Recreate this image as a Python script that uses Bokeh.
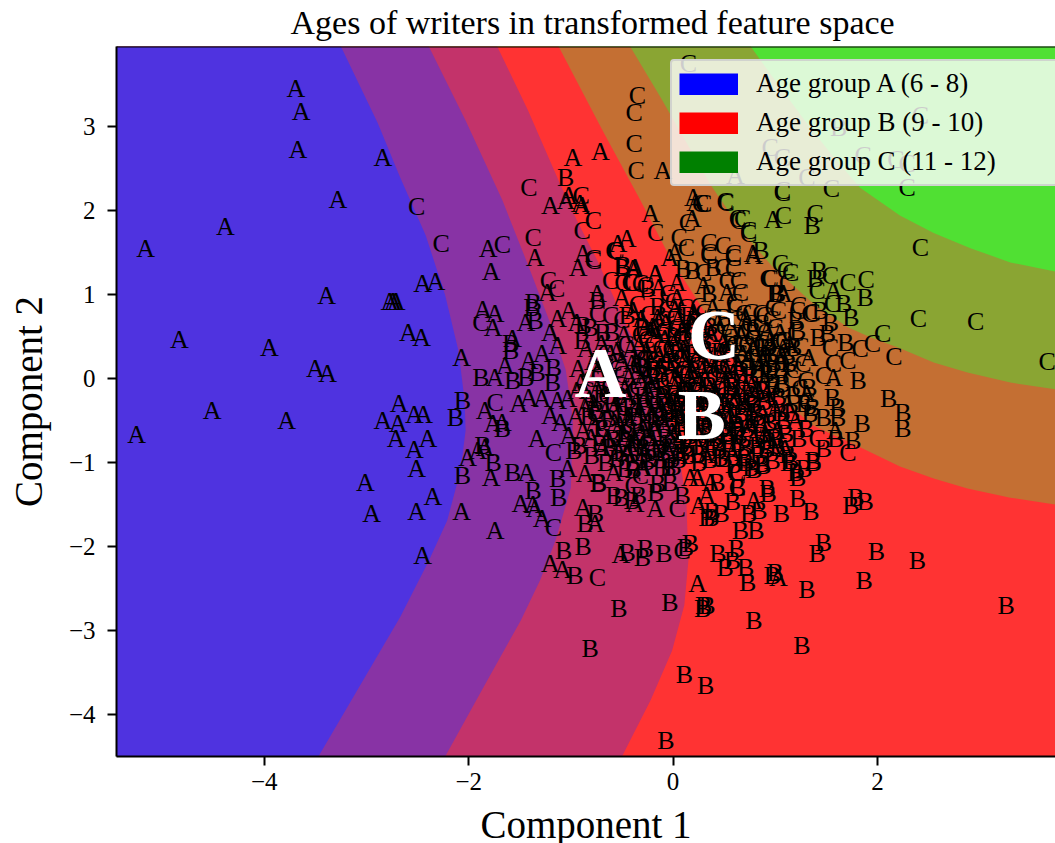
from bokeh.embed import file_html
from bokeh.resources import INLINE
from bokeh.plotting import figure
from bokeh.models import ColumnDataSource, Range1d, FixedTicker, Legend, LegendItem, Span, Label
from bokeh.core.properties import value

TITLE = "Ages of writers in transformed feature space"
XLABEL = "Component 1"
YLABEL = "Component 2"
X_LIMITS = (-5.446, 3.742)
Y_LIMITS = (-4.5, 3.95)
X_TICKS = [-4, -2, 0, 2]
Y_TICKS = [-4, -3, -2, -1, 0, 1, 2, 3]
LEGEND_LABELS = ["Age group A (6 - 8)", "Age group B (9 - 10)", "Age group C (11 - 12)"]
LEGEND_COLORS = ["#0000FF", "#FF0000", "#008000"]
REGION_COLORS = ["#4F33E0", "#8833A5", "#C3336A", "#FF3333", "#C46F33", "#8AA533", "#50E033"]

# Decision-region boundaries
B1_x = [-3.25, -2.89, -2.67, -2.42, -2.23, -2.10, -2.04, -2.03, -2.08, -2.21, -2.39, -2.67, -3.06, -3.47]
B1_y = [3.95, 3.04, 2.39, 1.70, 0.99, 0.33, -0.26, -0.62, -1.10, -1.69, -2.17, -2.84, -3.65, -4.5]
B2_x = [-2.39, -2.03, -1.67, -1.40, -1.20, -1.05, -0.98, -1.00, -1.15, -1.30, -1.49, -1.87, -2.23]
B2_y = [3.95, 3.07, 2.12, 1.29, 0.65, 0.10, -0.50, -1.30, -1.93, -2.40, -2.88, -3.71, -4.5]
B3_x = [-1.72, -1.42, -1.10, -0.94, -0.74, -0.45, -0.27, -0.10, 0.05, 0.13, 0.15, 0.11, -0.01, -0.22, -0.50]
B3_y = [3.95, 3.19, 2.30, 1.88, 1.40, 0.61, 0.21, -0.20, -0.86, -1.45, -2.17, -2.70, -3.24, -3.83, -4.5]
B4_x = [-1.12, -0.69, -0.32, -0.03, 0.32, 0.61, 0.90, 1.37, 1.83, 2.22, 2.55, 2.88, 3.30, 3.74]
B4_y = [3.95, 2.95, 2.12, 1.44, 0.77, 0.25, -0.08, -0.56, -0.82, -1.05, -1.19, -1.31, -1.42, -1.50]
B5_x = [-0.42, -0.12, 0.37, 0.69, 0.98, 1.37, 1.71, 1.93, 2.22, 2.55, 2.88, 3.30, 3.74]
B5_y = [3.95, 3.34, 2.30, 1.73, 1.32, 0.89, 0.61, 0.49, 0.36, 0.19, 0.07, -0.05, -0.13]
B6_x = [0.76, 1.02, 1.30, 1.56, 1.83, 2.22, 2.55, 2.91, 3.30, 3.74]
B6_y = [3.95, 3.51, 3.05, 2.65, 2.27, 1.94, 1.73, 1.55, 1.38, 1.27]

A_points = [
    (-3.69,3.45),(-3.64,3.18),(-3.67,2.73),(-2.84,2.63),(-3.28,2.13),(-4.38,1.81),(-5.16,1.54),(-3.39,0.99),
    (-2.77,0.92),(-2.74,0.92),(-2.71,0.92),(-4.83,0.46),(-3.95,0.37),(-3.50,0.12),(-3.38,0.06),(-4.51,-0.38),
    (-3.78,-0.50),(-5.25,-0.67),(-2.68,-0.30),(-2.84,-0.50),(-2.69,-0.54),(-2.53,-0.43),(-2.44,-0.43),(-2.71,-0.71),
    (-2.40,-0.71),(-2.53,-0.85),(-2.51,-1.07),(-3.01,-1.24),(-2.95,-1.61),(-2.51,-1.58),(-2.35,-1.40),(-2.07,-1.58),
    (-2.45,-2.11),(-2.59,0.55),(-2.46,0.49),(-2.45,1.13),(-2.32,1.15),(-2.07,0.25),(-1.78,1.27),(-1.81,1.54),(-1.86,0.82),
    (-1.74,0.77),(-1.76,0.61),(-1.35,1.44),(-1.23,1.02),(-1.44,0.67),(-1.13,0.71),(-1.02,0.81),(-0.88,1.49),(-0.93,1.32),
    (-1.20,2.06),(-1.05,2.12),(-0.89,2.06),(-0.74,1.01),(-0.45,1.67),(-0.54,1.61),(-0.37,1.32),(-0.22,1.96),(-0.17,1.25),
    (0.19,1.90),(0.04,1.14),(-0.03,1.44),(0.22,2.09),(-1.57,0.48),(-1.20,0.55),(-0.94,0.67),(-0.50,0.96),(-0.22,0.57),
    (-0.98,2.63),(-0.71,2.70),(-0.10,2.48),(0.98,1.89),(0.61,2.41),
    (-1.74,0.01),(-1.64,0.15),(-1.41,0.21),(-1.28,0.30),(-1.13,0.39),(-1.84,-0.38),(-1.76,-0.54),(-1.67,-0.52),(-1.51,-0.30),
    (-1.41,-0.23),(-1.28,-0.24),(-1.13,-0.26),(-1.03,-0.24),(-1.20,-0.44),(-1.10,-0.52),(-1.33,-0.71),(-1.02,-0.68),
    (-2.01,-0.94),(-1.91,-0.86),(-1.84,-0.82),(-1.78,-1.18),(-1.43,-1.12),(-1.03,-1.07),(-0.86,-1.13),(-0.45,-0.89),
    (-0.58,-1.12),(-0.30,-1.06),(-0.94,-0.14),(-0.78,-0.30),(-1.35,-1.55),(-1.28,-1.67),(-0.88,-1.54),(-0.76,-1.73),
    (-1.20,-2.20),(-1.08,-2.28),(-0.51,-2.10),(-0.17,-1.55),(0.25,-1.51),(0.24,-2.44),(1.03,-2.37),(0.79,-1.45),
    (-0.37,-1.49),(0.33,-1.39),(-1.02,2.18),(-0.91,2.08),(0.20,2.15),(0.02,1.50),(0.78,1.49),(0.79,1.46),(1.57,1.05),
    (1.57,0.01),(1.59,-0.62),(1.31,-0.18),(1.33,0.25),(1.08,1.01),(1.07,0.27),
    (-0.39,1.31),(-0.17,1.25),(0.30,1.11),(0.53,1.02),(0.39,0.84),(0.92,0.57),(1.05,0.55),(1.08,0.37),(-0.14,1.08),
    (-0.27,0.60),(-0.39,0.81),(0.04,0.96),(0.98,-0.80),(0.24,-1.18),(-0.29,-1.06),(-0.44,-0.88),(0.17,-1.18),(0.37,-1.24),
    (-1.49,-1.49),(-1.74,-1.81),(-1.37,-1.50),
    (-0.85,0.35),(-0.78,0.20),(-0.70,0.42),(-0.62,0.10),(-0.55,0.32),(-0.48,0.52),(-0.40,0.18),(-0.33,0.40),(-0.27,0.05),
    (-0.20,0.62),(-0.14,0.28),(-0.08,0.47),(-0.02,0.12),(0.05,0.70),(0.10,0.36),(0.16,0.03),(0.24,0.58),(0.30,0.22),
    (-0.90,-0.05),(-0.82,-0.25),(-0.74,-0.12),(-0.66,-0.38),(-0.58,-0.08),(-0.52,-0.55),(-0.45,-0.22),(-0.38,-0.70),
    (-0.32,-0.40),(-0.25,-0.15),(-0.18,-0.60),(-0.12,-0.33),(-0.05,-0.85),(0.02,-0.10),(0.08,-0.50),(0.15,-0.28),
    (0.22,-0.72),(0.28,-0.42),(0.36,-0.12),(0.44,-0.60),(0.52,0.10),(0.60,-0.30),(0.68,0.30),(0.75,-0.52),(0.85,0.12),
    (0.92,-0.18),(-0.95,-0.45),(-0.88,-0.62),(-0.77,-0.52),(-0.64,-0.70),(-0.56,-0.30),(-0.43,0.02),(-0.31,-0.03),
    (-0.17,-0.09),(-0.06,0.22),(0.07,-0.20),(0.13,0.17),(0.19,0.42),(0.27,-0.06),(0.33,0.33),(0.41,-0.35),(0.47,0.30),
    (0.55,-0.50),(0.63,0.18),(0.72,-0.12),(0.79,-0.72),(0.88,-0.42),(1.02,-0.62),(1.12,-0.30),
]
A_core = [
    (-0.31,0.71),(-0.26,0.33),(-0.23,-0.04),(-0.21,-0.41),(-0.19,-0.77),(-0.16,0.52),(-0.13,0.14),(-0.11,-0.19),(-0.09,-0.52),
    (-0.07,0.66),(-0.04,0.31),(-0.03,-0.27),(-0.01,-0.63),(0.01,0.42),(0.03,0.04),(0.05,-0.36),(0.06,-0.74),(0.09,0.58),
    (0.11,0.23),(0.12,-0.14),(0.14,-0.46),(0.17,0.66),(0.18,0.11),(0.21,-0.24),(0.23,-0.60),(0.26,0.46),(0.29,0.09),
    (0.31,-0.31),(0.34,-0.67),(0.37,0.53),(0.39,0.17),(0.42,-0.18),(0.46,-0.49),(0.49,0.43),(0.51,-0.03),(0.54,-0.37),
    (0.57,0.61),(0.59,0.07),(0.62,-0.21),(0.64,-0.55),(0.67,0.51),(0.71,-0.33),(0.74,0.24),(0.77,-0.08),(-0.68,0.22),
    (-0.60,-0.15),(-0.57,-0.52),(-0.50,0.21),(-0.47,-0.12),(-0.44,-0.46),(-0.41,0.35),(-0.36,-0.27),(-0.35,0.09),(-0.29,-0.58),
    (-0.93,0.12),(-0.86,-0.33),(-0.80,-0.70),(-0.73,0.10),(-0.69,-0.82),(-0.61,0.30),(-0.54,-0.84),(-0.42,-0.77),(-0.28,-0.88),
    (-0.15,0.73),(-0.13,-0.95),(0.02,0.82),(0.07,-0.92),(0.20,0.78),(0.32,-0.90),(0.44,0.66),(0.58,-0.88),(0.71,0.72),
    (0.78,0.37),(0.83,-0.13),(0.87,0.25),(0.90,-0.65),(0.95,0.45),(1.00,-0.36),(1.06,0.20),(1.10,-0.84),(1.14,0.40),(1.20,-0.50),
]
B_points = [
    (-1.12,-1.42),(-0.76,-1.61),(-0.86,-1.73),(-1.07,-2.05),(-0.88,-2.00),(-0.96,-2.34),(-0.45,-2.07),(-0.30,-2.13),
    (-0.27,-2.02),(-0.09,-2.08),(0.12,-2.01),(0.17,-1.96),(-0.53,-2.74),(-0.03,-2.67),(0.30,-2.70),(0.33,-2.70),
    (0.29,-2.74),(0.44,-2.08),(0.62,-2.02),(0.51,-2.25),(0.58,-2.17),(0.71,-2.25),(0.73,-2.43),(0.97,-2.34),(1.31,-2.51),
    (1.41,-2.08),(1.47,-1.95),(0.66,-1.81),(0.81,-1.81),(0.33,-1.65),(0.37,-1.65),(0.38,-1.59),(0.47,-1.61),(0.58,-1.47),
    (0.74,-1.61),(0.84,-1.57),(0.93,-1.37),(1.06,-1.61),(1.22,-1.43),(1.35,-1.59),(0.63,-1.30),(-0.73,-1.25),(-0.58,-1.39),
    (-0.51,-1.42),(-0.40,-1.45),(-0.34,-1.39),(-0.17,-1.36),(0.09,-1.39),
    (-0.81,-3.21),(0.11,-3.53),(0.32,-3.65),(-0.07,-4.31),(0.79,-2.88),(1.26,-3.18),(3.26,-2.70),(2.39,-2.17),(1.87,-2.40),
    (1.99,-2.06),(1.74,-1.51),(1.79,-1.42),(1.88,-1.46),(1.00,-2.31),
    (1.62,2.99),(1.36,1.82),(0.86,1.52),(1.43,1.28),(1.39,1.19),(1.88,0.96),(1.67,0.89),(1.74,0.73),(1.69,0.43),(1.81,-0.02),
    (2.11,-0.24),(2.25,-0.40),(2.25,-0.60),(1.85,-0.54),(1.56,-0.23),(1.61,-0.35),(1.61,-0.46),(1.47,-0.46),(1.59,-0.71),
    (1.76,-0.74),(1.47,-0.83),(1.37,-1.00),(1.28,-1.07),(1.13,-1.00),(1.20,-1.12),(0.76,-1.06),(0.87,-1.01),(1.33,-0.11),
    (1.36,-0.35),(1.34,-0.42),(1.42,0.49),(1.51,0.54),(1.44,0.81),(1.54,0.67),(1.02,1.01),(1.20,0.69),(0.88,0.37),
    (-1.37,0.90),(-1.38,0.84),(-1.35,0.69),(-0.74,0.93),(-0.49,1.34),(-0.88,0.63),(-0.81,0.60),(-0.89,0.45),(-0.69,0.55),
    (-1.59,0.42),(-0.25,1.07),(-1.88,0.01),(-1.57,-0.02),(-1.44,0.01),(-1.33,0.07),(-1.17,0.13),(-1.18,-0.05),(-1.59,0.33),
    (-2.06,-0.26),(-2.13,-0.46),(-1.67,-0.60),(-1.86,-0.80),(-1.76,-1.00),(-2.06,-1.15),(-1.57,-1.12),(-1.13,-1.19),
    (-0.97,-0.86),(-0.73,-1.24),(-1.37,-1.33),(-1.05,2.39),
    (-0.50,1.32),(0.10,1.31),(0.19,1.29),(0.39,1.32),(0.35,1.01),(1.00,1.01),(0.78,0.57),(1.22,0.57),(0.92,0.37),(1.18,0.37),(0.98,0.18),
    (1.15,-0.98),(1.22,-1.18),(1.37,-0.98),(0.88,-1.04),(0.79,-1.09),(0.82,-0.80),(0.69,-0.94),(0.54,-0.77),(0.46,-0.94),
    (0.24,-0.89),(-0.12,-1.06),(-0.39,-1.09),(-0.47,-1.07),(-0.05,-1.06),(-0.03,-1.24),(-0.15,-1.25),(0.43,-1.24),(0.92,-1.31),
    (-0.70,-0.60),(-0.62,-0.82),(-0.55,-0.95),(-0.48,-0.72),(-0.40,-1.00),(-0.30,-0.82),(-0.22,-0.95),(-0.15,-0.45),
    (-0.08,-0.70),(0.00,-1.05),(0.06,-0.30),(0.12,-0.80),(0.18,-0.55),(0.25,-1.00),(0.32,-0.20),(0.38,-0.75),(0.45,-0.40),
    (0.50,-0.95),(0.58,-0.10),(0.62,-0.62),(0.70,-0.82),(0.78,-0.30),(0.84,-0.55),(0.90,-0.85),(0.98,-0.10),(1.04,-0.40),
    (1.10,-0.65),(1.18,-0.20),(-0.30,-0.20),(-0.20,0.10),(-0.10,-0.10),(0.00,0.20),(0.12,-0.05),(0.20,0.30),(0.35,0.15),
    (0.45,0.32),(0.55,-0.15),(0.65,0.05),(0.80,0.20),(0.95,0.30),(1.05,0.10),(-0.60,0.55),(-0.45,0.75),(-0.30,0.60),
    (-0.15,0.85),(0.00,0.50),(0.15,0.75),(-0.42,-0.35),(-0.27,-0.52),(-0.11,-0.22),(0.03,-0.42),(0.10,-0.62),(0.22,-0.14),
    (0.34,-0.33),(0.42,-0.55),(0.53,-0.28),(0.66,-0.42),(0.74,-0.18),(0.89,-0.28),(-0.92,-0.80),(-0.80,-0.92),(-0.66,-1.00),
]
B_core = [
    (-0.34,-0.64),(-0.28,-0.33),(-0.24,-0.70),(-0.21,0.22),(-0.17,-0.31),(-0.14,-0.83),(-0.12,0.06),(-0.06,-0.41),(-0.03,-0.77),
    (0.00,-0.18),(0.04,0.33),(0.07,-0.54),(0.09,-0.88),(0.13,-0.37),(0.16,-0.68),(0.20,0.09),(0.23,-0.33),(0.27,-0.80),
    (0.30,0.45),(0.33,-0.57),(0.35,-0.09),(0.40,-0.44),(0.44,-0.82),(0.47,0.06),(0.49,-0.32),(0.52,-0.65),(0.56,0.40),
    (0.60,-0.44),(0.63,-0.78),(0.66,0.19),(0.69,-0.27),(0.72,-0.60),(0.76,0.03),(0.81,-0.40),(0.86,-0.68),(0.91,0.06),
    (0.94,-0.52),(0.99,-0.70),(1.03,-0.22),(1.08,-0.50),(-0.75,-0.38),(-0.70,-0.18),(-0.63,-0.48),(-0.59,-0.72),(-0.53,-0.20),
    (-0.49,-0.43),(-0.46,-0.65),(-0.37,-0.82),(-0.33,0.24),(-0.28,0.13),(0.11,0.55),(0.21,0.70),(0.36,0.62),(0.50,0.72),
    (-0.83,-0.45),(-0.72,-0.78),(-0.60,-0.30),(-0.51,-0.88),(-0.36,-0.45),(-0.26,-0.99),(-0.19,-0.52),(-0.10,-0.88),(-0.02,-0.48),
    (0.05,-0.96),(0.11,-0.14),(0.15,-0.92),(0.19,-0.36),(0.29,-0.50),(0.36,-0.96),(0.41,-0.70),(0.48,-0.58),(0.55,-0.84),
    (0.59,-1.02),(0.65,-0.68),(0.71,-1.00),(0.77,-0.49),(0.83,-0.92),(0.87,-0.15),(0.93,-0.74),(0.97,-0.98),(1.02,-0.82),
    (1.07,-0.06),(1.12,-0.90),(1.16,-0.41),(1.23,-0.72),(1.28,-0.30),(1.30,-0.60),(0.82,0.10),(0.97,0.05),(1.13,0.18),
]
C_points = [
    (-1.17,-1.77),(-0.74,-2.37),(0.04,-1.55),(0.09,-2.05),
    (0.15,3.75),(-0.35,3.37),(-0.38,3.17),(-0.38,2.80),(-0.36,2.48),(2.42,3.13),(0.95,2.75),(1.07,2.63),(1.86,2.65),(2.18,2.60),
    (2.29,2.56),(1.07,2.24),(1.31,2.39),(1.55,2.26),(2.29,2.27),(0.27,2.08),(0.51,2.10),(0.64,1.88),(0.74,1.76),(1.08,1.94),
    (1.39,1.96),(2.42,1.56),(2.40,0.71),(2.96,0.68),(3.66,0.20),
    (-0.90,2.18),(-0.78,1.88),(-0.89,1.76),(-0.78,1.43),(-0.17,1.74),(-0.56,1.52),(0.30,2.08),(0.14,1.86),(0.06,1.68),(0.13,1.56),
    (0.35,1.62),(0.35,1.50),(0.49,1.58),(0.59,1.49),(0.52,2.09),(0.63,1.90),(0.68,1.90),(1.07,2.21),
    (0.74,1.73),(1.05,1.37),(1.10,1.28),(1.15,1.26),(0.93,1.19),(1.12,1.14),(1.54,1.23),(1.41,1.05),(1.71,1.14),(1.89,1.18),
    (1.56,0.89),(2.05,0.54),(1.95,0.42),(1.83,0.36),(2.16,0.26),(1.71,0.21),(1.57,0.18),(1.47,0.04),(1.41,-0.71),(1.71,-0.88),
    (0.63,-1.12),(1.54,0.37),(1.34,0.77),(0.69,0.77),(0.86,0.77),(0.98,0.84),(1.22,0.81),(1.31,-0.28),
    (-2.51,2.05),(-2.27,1.61),(-1.67,1.59),(-1.37,1.68),(-1.41,2.27),(-1.22,1.17),(-1.14,1.07),(-1.88,0.67),(-0.78,1.40),(-0.58,1.52),
    (-0.61,1.17),(-0.49,1.14),(-0.40,1.14),(-0.32,1.13),(-0.74,0.77),(-0.61,0.75),(-1.74,-0.29),(-1.17,-0.88),
    (-0.42,1.14),(-0.27,1.11),(0.30,1.26),(0.49,1.32),(0.59,1.31),(0.35,1.46),(0.59,1.44),(0.95,1.19),(0.64,1.17),(0.53,1.17),
    (0.66,1.02),(0.61,0.84),(0.76,0.79),(0.89,0.75),(1.03,0.81),(1.23,0.87),(1.36,0.79),(-0.05,1.01),(-0.09,0.57),
    (0.61,-1.12),(1.10,-0.76),(-0.03,-0.82),(-0.32,-1.15),(-0.24,-0.86),(-0.39,-1.27),(0.63,-1.30),
    (-0.50,0.70),(-0.35,0.88),(-0.20,0.40),(-0.10,0.70),(0.00,0.92),(0.08,0.25),(0.18,0.50),(0.25,0.85),(0.32,0.40),(0.40,0.72),
    (0.48,0.15),(0.55,0.55),(0.60,0.90),(0.68,0.42),(0.75,0.65),(0.82,0.35),(0.90,0.55),(1.00,0.60),(1.08,0.45),(1.15,0.25),
    (1.20,0.55),(-0.80,0.00),(-0.65,-0.20),(-0.50,0.05),(-0.35,-0.10),(-0.20,-0.25),(-0.05,0.00),(0.10,0.10),(0.25,-0.15),
    (0.40,0.02),(0.55,0.25),(0.70,-0.05),(0.85,-0.35),(1.00,-0.25),(1.15,0.00),(-0.40,-0.50),(-0.25,-0.75),(-0.10,-0.55),
    (0.05,-0.65),(0.20,-0.40),(0.35,-0.55),(0.50,-0.20),(-0.12,0.35),(0.03,0.60),(0.14,0.05),(0.29,0.68),(0.38,-0.25),
    (0.60,0.40),(0.78,0.48),(0.94,0.12),(1.06,-0.12),
]
C_core = [
    (-0.32,0.52),(-0.28,0.24),(-0.24,0.76),(-0.21,-0.12),(-0.18,0.21),(-0.15,0.60),(-0.11,-0.43),(-0.08,0.15),(-0.06,0.82),
    (-0.02,0.36),(0.01,-0.29),(0.02,0.74),(0.06,0.05),(0.08,0.50),(0.10,-0.19),(0.12,0.84),(0.15,0.30),(0.17,-0.11),
    (0.20,0.62),(0.22,0.15),(0.25,-0.46),(0.27,0.36),(0.30,0.79),(0.33,-0.03),(0.36,0.27),(0.38,-0.40),(0.41,0.55),
    (0.44,0.10),(0.47,-0.10),(0.50,0.62),(0.52,0.34),(0.56,-0.02),(0.58,-0.27),(0.61,0.70),(0.65,0.30),(0.67,-0.15),
    (0.70,0.55),(0.73,0.14),(0.76,-0.25),(0.80,0.60),(0.83,0.05),(0.87,0.42),(0.91,-0.08),(0.96,0.70),(1.01,0.28),
    (-0.72,0.05),(-0.66,0.30),(-0.58,0.19),(-0.52,-0.08),(-0.46,0.40),(-0.38,-0.15),(-0.34,0.15),(-0.29,-0.36),(-0.26,0.46),
    (-0.85,-0.15),(-0.76,-0.42),(-0.68,-0.60),(-0.62,-0.10),(-0.55,0.12),(-0.49,-0.33),(-0.43,-0.62),(-0.33,-0.70),(-0.23,0.02),
    (-0.16,-0.65),(-0.07,-0.32),(-0.04,-0.90),(0.03,-0.24),(0.10,-0.42),(0.16,-0.82),(0.24,0.20),(0.28,-0.63),(0.39,-0.82),
    (0.45,-0.68),(0.53,0.15),(0.61,-0.58),(0.68,-0.70),(0.72,0.40),(0.79,-0.55),(0.86,0.65),(0.92,0.25),(0.99,-0.50),(1.04,0.45),
    (1.11,0.32),(1.18,0.10),(1.25,0.38),(1.27,0.18),(1.30,-0.02),(1.24,-0.12),
]
BIG_LABELS = ["A", "B", "C"]
BIG_X = [-0.71, 0.28, 0.40]
BIG_Y = [0.07, -0.44, 0.52]

xmin, xmax = X_LIMITS
ymin, ymax = Y_LIMITS

p = figure(width=1055, height=843, frame_width=939, frame_height=710,
           x_range=Range1d(xmin, xmax), y_range=Range1d(ymin, ymax),
           output_backend="svg", toolbar_location=None,
           min_border_left=116, min_border_right=0, min_border_top=46, min_border_bottom=87,
           background_fill_color=REGION_COLORS[6], border_fill_color="white")

SERIF = "Liberation Serif"
p.add_layout(Label(x=174, y=24, x_units="screen", y_units="screen", text=TITLE,
                   text_font=SERIF, text_font_size="34px", text_color="#000000",
                   text_align="left", text_baseline="middle"), "above")

p.grid.visible = False
p.outline_line_color = None

for ax, ticks, lab in ((p.xaxis[0], X_TICKS, XLABEL), (p.yaxis[0], Y_TICKS, YLABEL)):
    ax.ticker = FixedTicker(ticks=ticks)
    ax.major_label_overrides = {t: (f"\u2212{abs(t)}" if t < 0 else str(t)) for t in ticks}
    ax.axis_label = lab
    ax.axis_label_text_font = SERIF
    ax.axis_label_text_font_size = "39px"
    ax.axis_label_text_font_style = "normal"
    ax.axis_label_text_color = "#000000"
    ax.major_label_text_font = SERIF
    ax.major_label_text_font_size = "25px"
    ax.major_label_text_color = "#000000"
    ax.axis_line_width = 2
    ax.axis_line_color = "black"
    ax.major_tick_line_width = 2
    ax.major_tick_line_color = "black"
    ax.major_tick_out = 9
    ax.major_tick_in = 0
    ax.minor_tick_line_color = None
p.xaxis[0].major_label_standoff = 7
p.yaxis[0].major_label_standoff = 12
p.xaxis[0].axis_label_standoff = 10
p.yaxis[0].axis_label_standoff = 16

# Regions, painted from the outermost inwards
stack = [(B6_x, B6_y, 5, True), (B5_x, B5_y, 4, True), (B4_x, B4_y, 3, True),
         (B3_x, B3_y, 2, False), (B2_x, B2_y, 1, False), (B1_x, B1_y, 0, False)]
for bx, by, ci, to_right in stack:
    xs = list(bx) + ([bx[-1]] if to_right else []) + [xmin, xmin]
    ys = list(by) + ([ymin] if to_right else []) + [ymin, ymax]
    p.patch(xs, ys, fill_color=REGION_COLORS[ci], line_color=None)

p.add_layout(Span(location=ymax, dimension="width", line_color="black", line_width=2))

for letter, pts in (("A", A_points + A_core), ("B", B_points + B_core), ("C", C_points + C_core)):
    src = ColumnDataSource(dict(x=[q[0] for q in pts], y=[q[1] for q in pts], t=[letter] * len(pts)))
    p.text("x", "y", text="t", source=src, text_font=value(SERIF), text_font_size=value("26px"),
           text_align="center", text_baseline="middle", text_color="black")

big = ColumnDataSource(dict(x=BIG_X, y=BIG_Y, t=BIG_LABELS))
p.text("x", "y", text="t", source=big, text_font=value(SERIF), text_font_size=value("72px"),
       text_font_style="bold", text_align="center", text_baseline="middle", text_color="white")

items = []
for lab, col in zip(LEGEND_LABELS, LEGEND_COLORS):
    r = p.line([xmin, xmin], [ymin, ymin], line_color=col, line_width=22, line_cap="butt")
    items.append(LegendItem(label=lab, renderers=[r]))
legend = Legend(items=items, location=(554, 570), padding=7, spacing=8,
                glyph_width=59, glyph_height=22, label_standoff=18, label_width=294, label_height=22,
                label_text_font=SERIF, label_text_font_size="27px", label_text_color="black",
                background_fill_color="white", background_fill_alpha=0.8,
                border_line_color="#cccccc", border_line_alpha=0.8, border_line_width=2, margin=0)
if "border_radius" in legend.properties():
    legend.border_radius = 4
p.add_layout(legend, "center")

open("out.html", "w").write(file_html(p, INLINE))
